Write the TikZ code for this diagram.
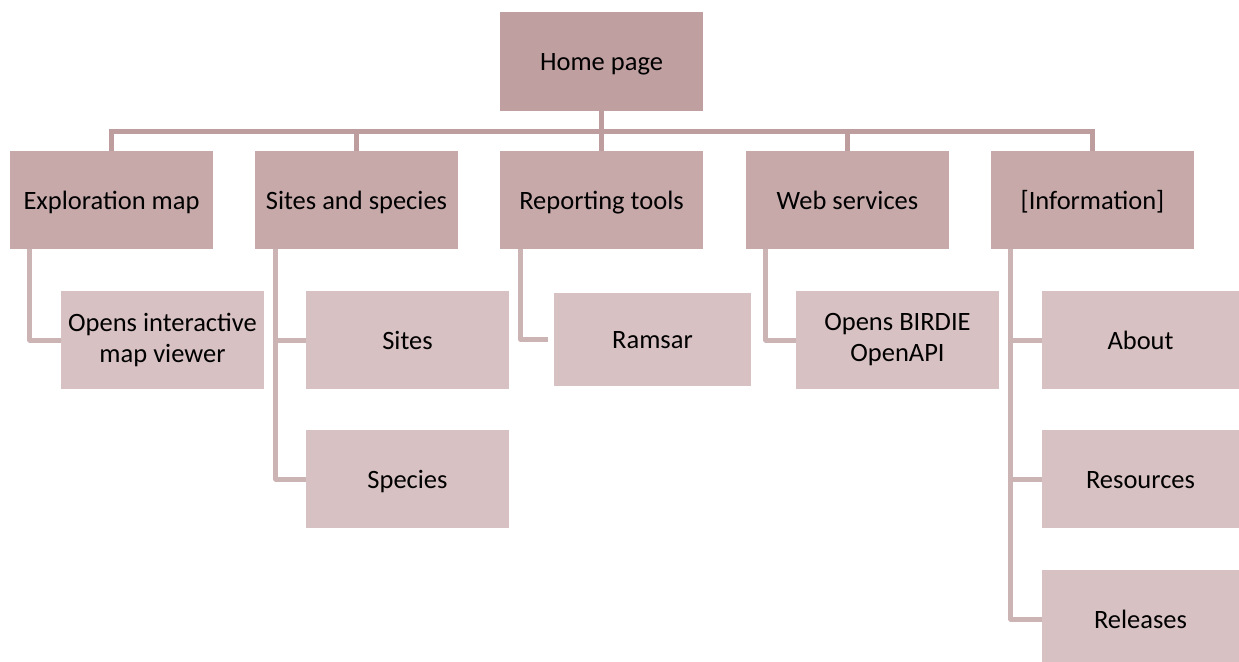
\documentclass[tikz,border=0pt]{standalone}
\usepackage{fontspec}
\setmainfont{Carlito}
\definecolor{topfill}{HTML}{C09FA1}
\definecolor{midfill}{HTML}{C7A9AA}
\definecolor{subfill}{HTML}{D8C1C2}
\definecolor{topline}{HTML}{BE9D9F}
\definecolor{subline}{HTML}{CCB4B5}
\tikzset{
  box/.style={rectangle, inner sep=2pt, align=center, text=black,
    font=\fontsize{26.5}{31}\selectfont, minimum width=203pt},
  oneline/.style={text height=24pt, text depth=6pt},
  topbox/.style={box, oneline, fill=topfill, minimum height=99pt},
  midbox/.style={box, oneline, fill=midfill, minimum height=98.5pt},
  subbox/.style={box, fill=subfill, minimum height=98pt},
  conn/.style={draw=topline, line width=5pt},
  subconn/.style={draw=subline, line width=5pt, line join=round}
}
\begin{document}
\begin{tikzpicture}[x=1pt,y=-1pt]
\useasboundingbox (0,0) rectangle (1239,661);
% nodes
\node[topbox] (home) at (601.5,61.5) {Home page};
\node[midbox] (expl) at (111.5,200) {Exploration map};
\node[midbox] (sas) at (356.5,200) {Sites and species};
\node[midbox] (rep) at (601.5,200) {Reporting tools};
\node[midbox] (web) at (847.5,200) {Web services};
\node[midbox] (info) at (1092.5,200) {[Information]};
\node[subbox] (opens) at (162.5,340) {Opens interactive\\map viewer};
\node[subbox, oneline] (sites) at (407.5,340) {Sites};
\node[subbox, oneline] (species) at (407.5,479) {Species};
\node[subbox, oneline, minimum width=197pt, minimum height=93pt] (ramsar) at (652.5,339.5) {Ramsar};
\node[subbox] (birdie) at (897.5,340) {Opens BIRDIE\\OpenAPI};
\node[subbox, oneline, minimum width=197pt] (about) at (1140.5,340) {About};
\node[subbox, oneline, minimum width=197pt] (resources) at (1140.5,479) {Resources};
\node[subbox, oneline, minimum width=197pt] (releases) at (1140.5,619) {Releases};
% top connectors
\coordinate (barL) at (111.5,131);
\coordinate (barR) at (1092.5,131);
\draw[conn] ([xshift=-2.5pt]barL) -- ([xshift=2.5pt]barR);
\draw[conn] (home.south) -- (home.south |- barL);
\foreach \n in {expl,sas,rep,web,info}
  \draw[conn] (\n.north) -- (\n.north |- barL);
% sub connectors
\draw[subconn] ([xshift=20pt]expl.south west) |- (opens.west);
\draw[subconn] ([xshift=21pt]sas.south west) |- (sites.west);
\draw[subconn] ([xshift=21pt]sas.south west) |- (species.west);
\coordinate (ramsarin) at ([xshift=-6pt]ramsar.west);
\draw[subconn] ([xshift=21pt]rep.south west) |- (ramsarin);
\draw[subconn] ([xshift=20pt]web.south west) |- (birdie.west);
\draw[subconn] ([xshift=20pt]info.south west) |- (about.west);
\draw[subconn] ([xshift=20pt]info.south west) |- (resources.west);
\draw[subconn] ([xshift=20pt]info.south west) |- (releases.west);
\end{tikzpicture}
\end{document}
